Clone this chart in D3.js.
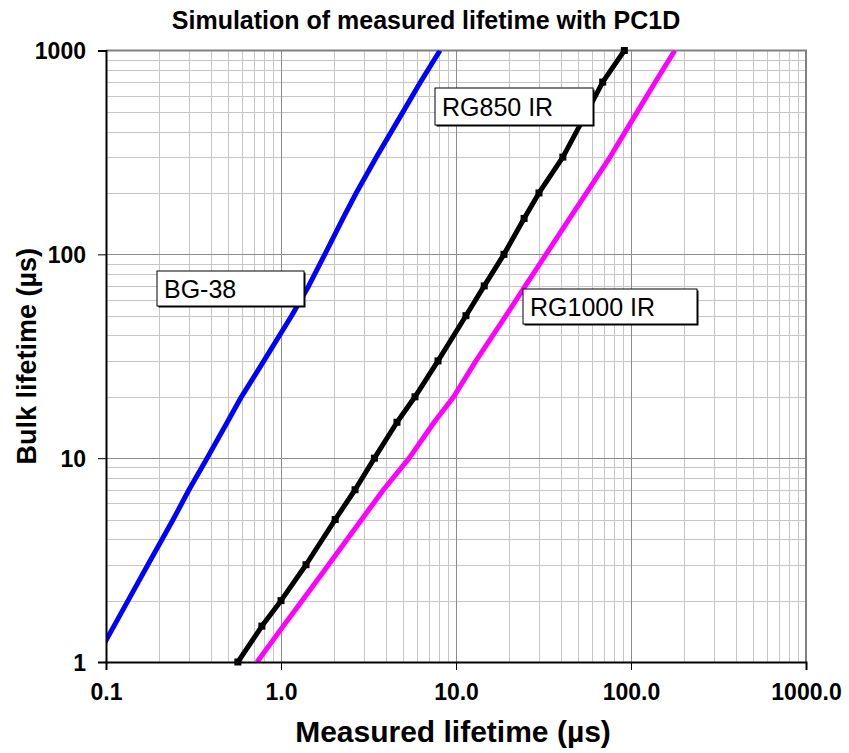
<!DOCTYPE html>
<html>
<head>
<meta charset="utf-8">
<script src="https://cdn.jsdelivr.net/npm/d3@7/dist/d3.min.js"></script>
<style>
  html, body { margin: 0; padding: 0; background: #fff; }
  svg { display: block; font-family: "Liberation Sans", Arial, sans-serif; }
</style>
</head>
<body>
<svg id="chart" width="849" height="753"></svg>
<script>
// Bulk lifetime values (µs) simulated in PC1D
const bulkLifetime = [1, 1.5, 2, 3, 5, 7, 10, 15, 20, 30, 50, 70, 100, 150, 200, 300, 500, 700, 1000];

// Measured lifetime (µs) for each filter, one value per bulk lifetime
const bg38   = [0.0852, 0.111, 0.1336, 0.1735, 0.242, 0.298, 0.378, 0.493, 0.594, 0.798, 1.15, 1.44, 1.78, 2.26, 2.69, 3.51, 4.98, 6.27, 8.1];
const rg850  = [0.567, 0.778, 1.0, 1.39, 2.04, 2.65, 3.42, 4.60, 5.83, 7.89, 11.4, 14.5, 18.8, 24.5, 29.8, 40.8, 56.1, 68.9, 91.6];
const rg1000 = [0.73, 1.03, 1.32, 1.87, 2.89, 3.85, 5.4, 7.5, 9.7, 13.0, 19.3, 24.9, 32.7, 44.6, 55.7, 75.9, 108.6, 137.7, 178];

const seriesNames = ["BG-38", "RG850 IR", "RG1000 IR"];

// Axis ticks
const xTicks = [0.1, 1, 10, 100, 1000];
const xTickLabels = ["0.1", "1.0", "10.0", "100.0", "1000.0"];
const yTicks = [1, 10, 100, 1000];
const yTickLabels = ["1", "10", "100", "1000"];

const titleText = "Simulation of measured lifetime with PC1D";
const xTitle = "Measured lifetime (µs)";
const yTitle = "Bulk lifetime (µs)";

const svg = d3.select("#chart");
const plot = { left: 106, right: 806, top: 50.5, bottom: 662 };

const x = d3.scaleLog().domain([0.1, 1000]).range([plot.left, plot.right]);
const y = d3.scaleLog().domain([1, 1000]).range([plot.bottom, plot.top]);

// minor grid values (2..9 inside each decade)
function minorValues(lo, hi) {
  const out = [];
  for (let d = lo; d < hi; d *= 10) for (let k = 2; k <= 9; k++) out.push(d * k);
  return out;
}

const grid = svg.append("g");
grid.selectAll("line.vx").data(minorValues(0.1, 1000)).join("line")
  .attr("x1", d => Math.round(x(d)) + 0.5).attr("x2", d => Math.round(x(d)) + 0.5)
  .attr("y1", plot.top).attr("y2", plot.bottom)
  .attr("stroke", "#c6c6c6").attr("stroke-width", 1);
grid.selectAll("line.hy").data(minorValues(1, 1000)).join("line")
  .attr("y1", d => Math.round(y(d)) + 0.5).attr("y2", d => Math.round(y(d)) + 0.5)
  .attr("x1", plot.left).attr("x2", plot.right)
  .attr("stroke", "#c6c6c6").attr("stroke-width", 1);
grid.selectAll("line.mx").data([1, 10, 100]).join("line")
  .attr("x1", d => Math.round(x(d)) + 0.5).attr("x2", d => Math.round(x(d)) + 0.5)
  .attr("y1", plot.top).attr("y2", plot.bottom)
  .attr("stroke", "#8c8c8c").attr("stroke-width", 1);
grid.selectAll("line.my").data([10, 100]).join("line")
  .attr("y1", d => Math.round(y(d)) + 0.5).attr("y2", d => Math.round(y(d)) + 0.5)
  .attr("x1", plot.left).attr("x2", plot.right)
  .attr("stroke", "#8c8c8c").attr("stroke-width", 1);

// top and right frame
svg.append("path")
  .attr("d", `M${plot.left},${plot.top}H${plot.right}V${plot.bottom}`)
  .attr("fill", "none").attr("stroke", "#808080").attr("stroke-width", 2);

// clip the curves to the plotting area
svg.append("clipPath").attr("id", "plotClip").append("rect")
  .attr("x", plot.left).attr("y", plot.top)
  .attr("width", plot.right - plot.left).attr("height", plot.bottom - plot.top);

const line = d3.line().x(d => x(d[0])).y(d => y(d[1]));
const series = [
  { name: seriesNames[0], values: bg38, color: "#0000ff" },
  { name: seriesNames[1], values: rg850, color: "#000000" },
  { name: seriesNames[2], values: rg1000, color: "#ff00ff" }
];

const curves = svg.append("g").attr("clip-path", "url(#plotClip)");
series.forEach(s => {
  const pts = s.values.map((v, i) => [v, bulkLifetime[i]]);
  curves.append("path").datum(pts)
    .attr("d", line)
    .attr("fill", "none").attr("stroke", s.color)
    .attr("stroke-width", 5).attr("stroke-linejoin", "round");
});

// square markers on the RG850 IR curve
svg.append("g").selectAll("rect")
  .data(rg850.map((v, i) => [v, bulkLifetime[i]]))
  .join("rect")
  .attr("x", d => x(d[0]) - 3.5).attr("y", d => y(d[1]) - 3.5)
  .attr("width", 7).attr("height", 7).attr("fill", "#000");

// axes
const xAxis = d3.axisBottom(x).tickValues(xTicks)
  .tickFormat((d, i) => xTickLabels[i]).tickSize(8).tickPadding(14);
const yAxis = d3.axisLeft(y).tickValues(yTicks)
  .tickFormat((d, i) => yTickLabels[i]).tickSize(8).tickPadding(12);

const gx = svg.append("g").attr("transform", `translate(0,${plot.bottom})`).call(xAxis);
const gy = svg.append("g").attr("transform", `translate(${plot.left},0)`).call(yAxis);
[gx, gy].forEach(g => {
  g.select(".domain").attr("stroke", "#000").attr("stroke-width", 2);
  g.selectAll(".tick line").attr("stroke", "#000").attr("stroke-width", 1);
  g.selectAll(".tick text")
    .attr("fill", "#000")
    .style("font-family", "'Liberation Sans', Arial, sans-serif")
    .style("font-size", "23px").style("font-weight", "bold");
});
gx.selectAll(".tick text").attr("dy", "0.71em");
gy.selectAll(".tick text").attr("dy", "0.36em");

// labels for the curves
const boxes = [
  { text: seriesNames[0], x: 157, y: 271, w: 147, h: 35 },
  { text: seriesNames[1], x: 435, y: 88, w: 158, h: 37 },
  { text: seriesNames[2], x: 523, y: 289, w: 174, h: 35 }
];
const lb = svg.append("g").selectAll("g").data(boxes).join("g");
lb.append("rect")
  .attr("x", d => d.x + 1.5).attr("y", d => d.y + 1.5)
  .attr("width", d => d.w).attr("height", d => d.h)
  .attr("fill", "#000");
lb.append("rect")
  .attr("x", d => d.x).attr("y", d => d.y)
  .attr("width", d => d.w).attr("height", d => d.h)
  .attr("fill", "#fff").attr("stroke", "#000").attr("stroke-width", 1);
lb.append("text")
  .attr("x", d => d.x + 7).attr("y", d => d.y + d.h / 2 + 9)
  .attr("font-size", 25).attr("fill", "#000")
  .text(d => d.text);

// titles
svg.append("text")
  .attr("x", 426).attr("y", 29)
  .attr("text-anchor", "middle")
  .attr("font-size", 25).attr("font-weight", "bold")
  .text(titleText);
svg.append("text")
  .attr("x", 453).attr("y", 742)
  .attr("text-anchor", "middle")
  .attr("font-size", 30).attr("font-weight", "bold")
  .text(xTitle);
svg.append("text")
  .attr("transform", `translate(36,${(plot.top + plot.bottom) / 2}) rotate(-90)`)
  .attr("text-anchor", "middle")
  .attr("font-size", 27).attr("font-weight", "bold")
  .text(yTitle);
</script>
</body>
</html>
